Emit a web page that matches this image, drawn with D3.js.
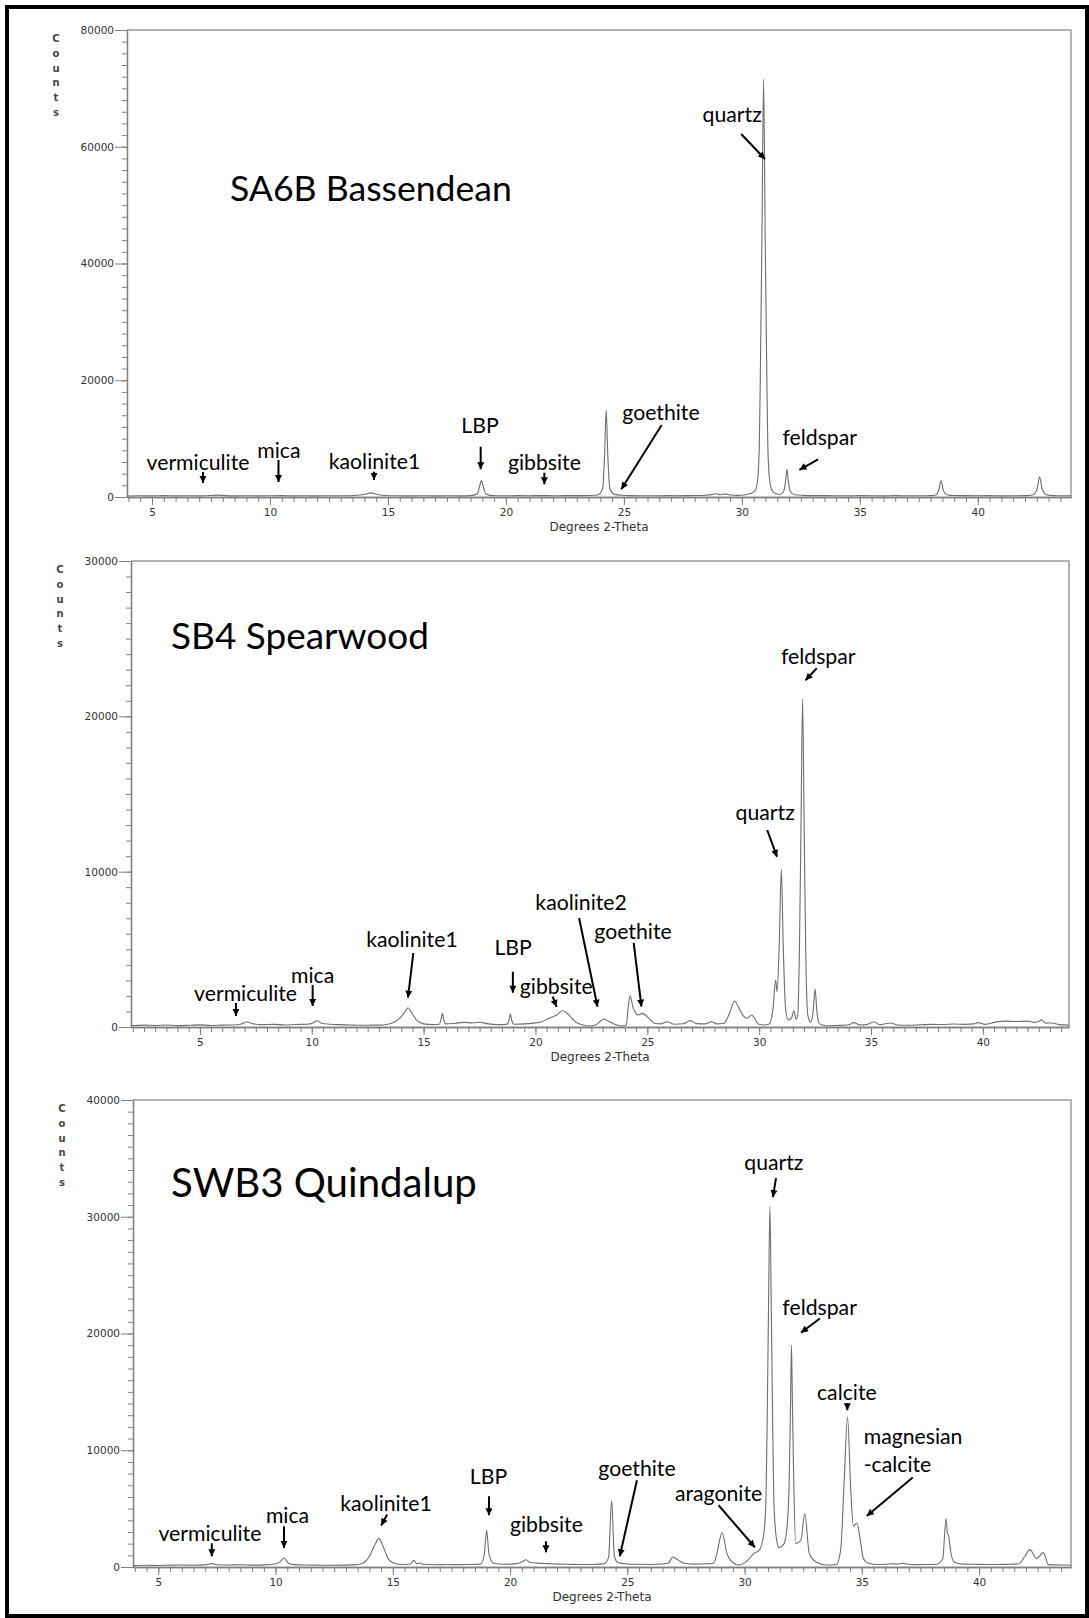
<!DOCTYPE html>
<html>
<head>
<meta charset="utf-8">
<script src="https://cdn.jsdelivr.net/npm/d3@7"></script>
<style>
  html, body { margin: 0; padding: 0; background: #fff; }
  svg { display: block; }
</style>
</head>
<body>
<svg id="fig" width="1089" height="1618"></svg>
<script>
// ---- Diffraction patterns: [degrees 2-theta, counts] ----
const sa6bPattern = [
  [3.94,180],[4.5,210],[5.0,190],[5.5,230],[6.0,200],[6.5,220],[7.0,190],[7.5,250],[7.8,320],[8.1,230],
  [8.6,200],[9.0,220],[9.5,190],[10.0,210],[10.5,230],[11.0,200],[11.5,210],[12.0,190],[12.5,220],[13.0,210],
  [13.6,260],[14.0,420],[14.28,700],[14.55,420],[14.9,250],[15.4,210],[16.0,200],[16.5,220],[17.0,190],[17.5,210],
  [18.0,200],[18.5,230],[18.78,500],[18.88,1800],[18.96,2800],[19.04,1800],[19.15,500],[19.4,240],[20.0,210],[20.5,230],
  [21.0,220],[21.5,240],[22.0,220],[22.5,230],[23.0,230],[23.5,260],[23.9,350],[24.1,1500],[24.18,7000],[24.25,14900],
  [24.32,7000],[24.4,1500],[24.6,450],[24.9,300],[25.3,230],[25.8,220],[26.3,210],[26.8,230],[27.3,220],[27.8,240],
  [28.3,260],[28.7,400],[28.9,560],[29.1,380],[29.3,540],[29.5,350],[29.8,280],[30.1,350],[30.38,600],[30.59,1300],
  [30.68,3500],[30.74,9000],[30.78,20000],[30.85,44000],[30.92,71600],[30.99,44000],[31.06,20000],[31.1,9000],[31.16,3500],[31.26,1300],
  [31.42,600],[31.6,420],[31.76,900],[31.85,2600],[31.91,4730],[31.97,2600],[32.06,900],[32.25,380],[32.6,280],[33.0,240],
  [33.5,230],[34.0,220],[34.5,210],[35.0,230],[35.5,220],[36.0,200],[36.5,230],[37.0,220],[37.5,210],[38.0,240],
  [38.25,400],[38.35,1300],[38.44,2790],[38.53,1300],[38.68,400],[39.0,250],[39.5,230],[40.0,220],[40.5,230],[41.0,200],
  [41.5,220],[42.0,230],[42.35,380],[42.52,1500],[42.62,3470],[42.72,1500],[42.9,400],[43.2,240],[43.5,220],[43.95,210]
];

const sb4Pattern = [
  [1.92,80],[2.5,120],[3.0,100],[3.5,130],[4.0,90],[4.5,110],[5.0,140],[5.5,100],[6.0,120],[6.5,130],
  [6.85,190],[7.1,320],[7.4,200],[7.8,150],[8.3,170],[8.8,130],[9.3,160],[9.8,180],[10.05,260],[10.24,400],
  [10.45,230],[10.8,180],[11.2,150],[11.7,130],[12.2,110],[12.7,120],[13.2,130],[13.6,250],[13.9,520],[14.15,950],
  [14.3,1240],[14.45,950],[14.7,420],[15.0,200],[15.4,150],[15.7,180],[15.78,500],[15.84,880],[15.9,450],[16.0,200],
  [16.4,240],[16.8,300],[17.2,260],[17.5,310],[17.9,200],[18.3,150],[18.7,170],[18.82,450],[18.88,840],[18.94,420],
  [19.05,180],[19.5,200],[19.9,250],[20.28,340],[20.61,560],[20.95,770],[21.2,1050],[21.45,840],[21.78,340],[22.11,130],
  [22.45,60],[22.7,150],[22.88,340],[23.05,515],[23.31,340],[23.64,130],[23.89,60],[24.06,130],[24.15,1300],[24.23,2015],
  [24.37,1200],[24.45,990],[24.56,770],[24.78,880],[25.07,560],[25.32,240],[25.6,200],[25.9,340],[26.2,180],[26.6,210],
  [26.92,410],[27.2,220],[27.6,200],[27.87,340],[28.1,200],[28.42,240],[28.65,800],[28.9,1670],[29.1,1200],[29.3,700],
  [29.47,560],[29.66,770],[29.8,550],[29.95,200],[30.2,130],[30.45,200],[30.62,1200],[30.74,3030],[30.8,2270],[30.9,5500],
  [30.99,10150],[31.08,5000],[31.18,1200],[31.3,450],[31.45,600],[31.55,1050],[31.65,500],[31.72,700],[31.8,5000],[31.87,13000],
  [31.94,21120],[32.01,13000],[32.08,5000],[32.17,800],[32.3,300],[32.42,1100],[32.5,2450],[32.58,1000],[32.7,200],[33.0,80],
  [33.5,100],[34.0,150],[34.24,280],[34.5,130],[34.8,150],[35.13,320],[35.4,150],[35.88,260],[36.2,130],[36.7,110],
  [37.2,140],[37.7,170],[38.2,160],[38.7,190],[39.2,170],[39.6,200],[39.8,280],[40.1,170],[40.6,330],[41.0,380],
  [41.5,350],[42.0,380],[42.3,300],[42.5,350],[42.63,460],[42.8,250],[43.1,260],[43.4,150],[43.85,120]
];

const swb3Pattern = [
  [3.92,120],[4.5,150],[5.0,130],[5.5,160],[6.0,170],[6.5,150],[7.0,180],[7.28,290],[7.5,190],[8.0,170],
  [8.5,190],[9.0,160],[9.5,180],[9.9,230],[10.18,420],[10.36,770],[10.55,330],[10.8,200],[11.3,170],[11.8,160],
  [12.3,150],[12.8,160],[13.3,180],[13.7,300],[13.95,750],[14.2,1750],[14.41,2430],[14.6,1700],[14.8,720],[15.05,320],
  [15.4,210],[15.75,260],[15.9,570],[16.02,300],[16.16,340],[16.3,230],[16.8,190],[17.3,210],[17.8,200],[18.3,210],
  [18.75,260],[18.9,1100],[19.0,3140],[19.1,1100],[19.3,320],[19.7,230],[20.2,270],[20.5,420],[20.68,620],[20.85,380],
  [21.2,330],[21.6,290],[22.0,250],[22.5,230],[23.0,210],[23.5,220],[24.0,270],[24.2,800],[24.33,5715],[24.45,900],
  [24.6,380],[25.0,260],[25.5,230],[26.0,220],[26.5,260],[26.74,320],[26.95,860],[27.17,590],[27.46,300],[27.9,250],
  [28.4,280],[28.68,320],[28.82,1150],[29.04,2950],[29.25,1150],[29.47,430],[29.75,170],[30.1,500],[30.4,1170],[30.62,1430],
  [30.8,2570],[30.9,5000],[30.96,12000],[31.02,22000],[31.08,30900],[31.14,22000],[31.2,12000],[31.26,5000],[31.36,2400],[31.47,1650],
  [31.67,1940],[31.8,3200],[31.9,7000],[31.96,14000],[32.0,19000],[32.04,14000],[32.1,7000],[32.18,2000],[32.4,2290],[32.57,4570],
  [32.76,1150],[33.05,430],[33.5,170],[33.92,220],[34.1,1500],[34.25,7500],[34.39,12850],[34.53,6500],[34.64,3500],[34.79,3770],
  [34.92,2500],[35.07,700],[35.3,300],[35.7,220],[36.0,230],[36.27,280],[36.5,250],[36.7,320],[36.9,260],[37.3,200],
  [37.8,210],[38.2,230],[38.45,700],[38.59,4150],[38.65,2900],[38.7,2700],[38.8,1200],[38.95,400],[39.3,250],[39.8,230],
  [40.3,210],[40.8,220],[41.3,230],[41.7,280],[41.95,900],[42.17,1490],[42.45,720],[42.74,1230],[42.96,200],[43.3,180],
  [43.92,170]
];

// ---- Mineral annotations (text anchor and arrow ends in 2-theta / counts) ----
const sa6bLabels = [
  { text: "vermiculite", at: [6.95, 4625],  arrow: [[7.16, 4280], [7.16, 1710]] },
  { text: "mica",        at: [10.38, 6680], arrow: [[10.36, 6340], [10.36, 1880]] },
  { text: "kaolinite1",  at: [14.43, 4800], arrow: [[14.41, 4330], [14.41, 2230]] },
  { text: "LBP",         at: [18.9, 10960], arrow: [[18.93, 8620], [18.93, 4060]] },
  { text: "gibbsite",    at: [21.63, 4625], arrow: [[21.63, 4160], [21.63, 1490]] },
  { text: "goethite",    at: [26.57, 13190], arrow: [[26.6, 12330], [24.8, 740]] },
  { text: "quartz",      at: [29.59, 64240], arrow: [[29.97, 62180], [31.1, 57390]] },
  { text: "feldspar",    at: [33.3, 8910],  arrow: [[33.23, 6460], [32.29, 4330]] }
];

const sb4Labels = [
  { text: "vermiculite", at: [7.04, 1674],  arrow: [[6.61, 1545], [6.61, 450]] },
  { text: "mica",        at: [10.04, 2833], arrow: [[10.04, 2704], [10.04, 1094]] },
  { text: "kaolinite1",  at: [14.48, 5150], arrow: [[14.54, 4764], [14.28, 1629]] },
  { text: "LBP",         at: [19.0, 4635],  arrow: [[18.99, 3560], [18.99, 1950]] },
  { text: "gibbsite",    at: [20.93, 2124], arrow: [[20.77, 1950], [21.01, 1050]] },
  { text: "kaolinite2",  at: [22.04, 7532], arrow: [[21.95, 7017], [22.81, 1050]] },
  { text: "goethite",    at: [24.36, 5665], arrow: [[24.39, 5408], [24.76, 1050]] },
  { text: "quartz",      at: [30.27, 13326], arrow: [[30.36, 12683], [30.86, 10706]] },
  { text: "feldspar",    at: [32.64, 23370], arrow: [[32.57, 23093], [31.95, 22127]] }
];

const swb3Labels = [
  { text: "vermiculite", at: [7.2, 2228],   arrow: [[7.28, 2031], [7.28, 574]] },
  { text: "mica",        at: [10.51, 3771], arrow: [[10.36, 3488], [10.36, 1286]] },
  { text: "kaolinite1",  at: [14.71, 4800], arrow: [[14.76, 4500], [14.42, 3250]] },
  { text: "LBP",         at: [19.08, 7088], arrow: [[19.1, 6060], [19.1, 4088]] },
  { text: "gibbsite",    at: [21.55, 2974], arrow: [[21.53, 2203], [21.53, 917]] },
  { text: "goethite",    at: [25.41, 7774], arrow: [[25.41, 7431], [24.64, 574]] },
  { text: "aragonite",   at: [28.89, 5631], arrow: [[28.89, 5288], [30.55, 1431]] },
  { text: "quartz",      at: [31.25, 34000], arrow: [[31.34, 33314], [31.18, 31343]] },
  { text: "feldspar",    at: [33.2, 21573], arrow: [[33.21, 21290], [32.27, 19859]] },
  { text: "calcite",     at: [34.36, 14288], arrow: [[34.38, 14030], [34.38, 13088]] },
  { text: "magnesian",   at: [35.08, 10516], anchor: "start" },
  { text: "-calcite",    at: [35.08, 8142],  anchor: "start", arrow: [[37.17, 7662], [35.08, 4148]] }
];

const sampleTitles = ["SA6B Bassendean", "SB4 Spearwood", "SWB3 Quindalup"];
const xMajorTicks = [5, 10, 15, 20, 25, 30, 35, 40];
const yAxisTitle = "Counts";
const xAxisTitle = "Degrees 2-Theta";

// ---- Layout of the three stacked panels ----
const panels = [
  { title: sampleTitles[0], data: sa6bPattern, labels: sa6bLabels,
    box: { left: 127, right: 1071, top: 30, bottom: 497 },
    xDomain: [3.94, 43.95], yMax: 80000, yMajor: 20000, yMinor: 2000,
    titleAt: { dx: 103, dy: 171, width: 282 } },
  { title: sampleTitles[1], data: sb4Pattern, labels: sb4Labels,
    box: { left: 131, right: 1069, top: 561, bottom: 1027 },
    xDomain: [1.92, 43.85], yMax: 30000, yMajor: 10000, yMinor: 1000,
    titleAt: { dx: 40, dy: 88, width: 258 } },
  { title: sampleTitles[2], data: swb3Pattern, labels: swb3Labels,
    box: { left: 133, right: 1071, top: 1100, bottom: 1567 },
    xDomain: [3.92, 43.92], yMax: 40000, yMajor: 10000, yMinor: 1000,
    titleAt: { dx: 38, dy: 97, width: 306 } }
];

const svg = d3.select("#fig");
const W = +svg.attr("width"), H = +svg.attr("height");
const axisFont = "'DejaVu Sans', Verdana, sans-serif";
const noteFont = "Lato, 'Open Sans', sans-serif";

svg.append("rect").attr("width", W).attr("height", H).attr("fill", "#fff");

const defs = svg.append("defs");
defs.append("marker")
  .attr("id", "arrowhead")
  .attr("viewBox", "0 0 10 10")
  .attr("refX", 10).attr("refY", 5)
  .attr("markerWidth", 8).attr("markerHeight", 7)
  .attr("markerUnits", "userSpaceOnUse")
  .attr("orient", "auto")
  .append("path")
  .attr("d", "M0,0 L10,5 L0,10 Z")
  .attr("fill", "#000");

// annotation font size chosen so that "vermiculite" spans ~103 px
const probe = svg.append("text").attr("font-family", noteFont).attr("font-size", 22).text("vermiculite");
const noteSize = 22 * 103 / probe.node().getComputedTextLength();
probe.remove();

function range(a, b, step) {
  const out = [];
  for (let v = Math.ceil(a / step - 1e-9) * step; v <= b + 1e-9; v += step) out.push(+v.toFixed(6));
  return out;
}

panels.forEach(p => {
  const { left, right, top, bottom } = p.box;
  const x = d3.scaleLinear().domain(p.xDomain).range([left, right]);
  const y = d3.scaleLinear().domain([0, p.yMax]).range([bottom, top]);
  const g = svg.append("g");

  // frame: top and right edges
  g.append("path")
    .attr("d", `M${left},${top}H${right}V${bottom}`)
    .attr("fill", "none").attr("stroke", "#9a9a9a").attr("stroke-width", 1.5);

  // y axis
  const yMinorAxis = d3.axisLeft(y).tickValues(range(0, p.yMax, p.yMinor)).tickSize(5).tickSizeOuter(0).tickFormat("");
  const yMajorAxis = d3.axisLeft(y).tickValues(range(0, p.yMax, p.yMajor)).tickSize(12).tickSizeOuter(0).tickPadding(1).tickFormat(d3.format("d"));
  [yMinorAxis, yMajorAxis].forEach(ax => {
    const a = g.append("g").attr("transform", `translate(${left},0)`).call(ax);
    a.select(".domain").attr("stroke", "#808080").attr("stroke-width", 1.3);
    a.selectAll(".tick line").attr("stroke", "#808080");
    a.selectAll(".tick text").attr("font-family", axisFont).attr("font-size", 10.5).attr("fill", "#333");
  });

  // x axis
  const xMinorAxis = d3.axisBottom(x).tickValues(range(p.xDomain[0], p.xDomain[1], 0.5)).tickSize(5).tickSizeOuter(0).tickFormat("");
  const xMajorAxis = d3.axisBottom(x).tickValues(xMajorTicks).tickSize(8).tickSizeOuter(0).tickPadding(4).tickFormat(d3.format("d"));
  [xMinorAxis, xMajorAxis].forEach(ax => {
    const a = g.append("g").attr("transform", `translate(0,${bottom})`).call(ax);
    a.select(".domain").attr("stroke", "#808080").attr("stroke-width", 1.3);
    a.selectAll(".tick line").attr("stroke", "#808080");
    a.selectAll(".tick text").attr("font-family", axisFont).attr("font-size", 10.5).attr("fill", "#333");
  });

  // axis titles
  g.append("text")
    .attr("x", (left + right) / 2).attr("y", bottom + 34)
    .attr("text-anchor", "middle")
    .attr("font-family", axisFont).attr("font-size", 12).attr("fill", "#333")
    .text(xAxisTitle);
  g.selectAll(".ylab").data(yAxisTitle.split("")).join("text")
    .attr("x", left - 71).attr("y", (d, i) => top + 12 + i * 14.8)
    .attr("text-anchor", "middle")
    .attr("font-family", axisFont).attr("font-size", 10).attr("font-weight", "bold").attr("fill", "#444")
    .text(d => d);

  // pattern
  const line = d3.line().x(d => x(d[0])).y(d => y(d[1])).curve(d3.curveMonotoneX);
  g.append("path").datum(p.data)
    .attr("d", line)
    .attr("fill", "none").attr("stroke", "#6e6e6e").attr("stroke-width", 1.1)
    .attr("stroke-linejoin", "round");

  // sample title
  const t = g.append("text")
    .attr("x", left + p.titleAt.dx).attr("y", top + p.titleAt.dy)
    .attr("font-family", noteFont).attr("font-size", 40).attr("fill", "#000")
    .text(p.title);
  t.attr("font-size", 40 * p.titleAt.width / t.node().getComputedTextLength());

  // mineral annotations
  p.labels.forEach(l => {
    g.append("text")
      .attr("x", x(l.at[0])).attr("y", y(l.at[1]))
      .attr("text-anchor", l.anchor || "middle")
      .attr("font-family", noteFont).attr("font-size", noteSize).attr("fill", "#000")
      .text(l.text);
    if (l.arrow) {
      const [a, b] = l.arrow;
      const x1 = x(a[0]), y1 = y(a[1]), x2 = x(b[0]), y2 = y(b[1]);
      const len = Math.hypot(x2 - x1, y2 - y1);
      const k = (len - 4) / len;
      g.append("line")
        .attr("x1", x1).attr("y1", y1)
        .attr("x2", x1 + (x2 - x1) * k).attr("y2", y1 + (y2 - y1) * k)
        .attr("stroke", "#000").attr("stroke-width", 2)
        .attr("marker-end", "url(#arrowhead)");
    }
  });
});

// outer border
svg.append("rect")
  .attr("x", 7).attr("y", 7).attr("width", W - 9).attr("height", H - 9)
  .attr("fill", "none").attr("stroke", "#000").attr("stroke-width", 4);
</script>
</body>
</html>
